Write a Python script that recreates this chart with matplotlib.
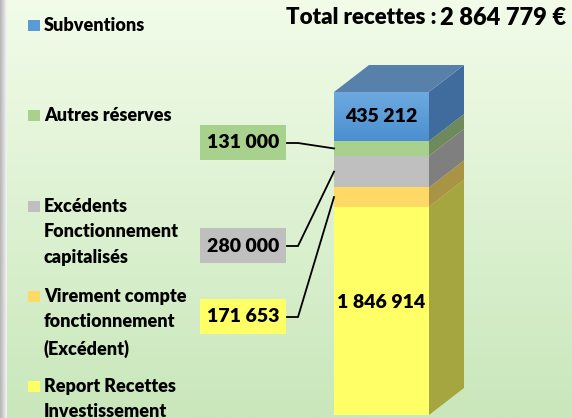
"""Stacked 3D-look column: budget recettes d'investissement."""

import numpy as np
import matplotlib
matplotlib.use("Agg")
from matplotlib import pyplot as plt
from matplotlib.colors import to_rgb
from matplotlib.patches import Polygon, Rectangle

plt.rcParams['font.family'] = ['Lato', 'DejaVu Sans']

# data, bottom to top of the stack
categories = ["Report Recettes\nInvestissement",
              "Virement compte\nfonctionnement\n(Excédent)",
              "Excédents\nFonctionnement\ncapitalisés",
              "Autres réserves",
              "Subventions"]
values = [1846914, 171653, 280000, 131000, 435212]
value_labels = ["1 846 914", "171 653", "280 000", "131 000", "435 212"]
total_label = "2 864 779 €"

front_colors = ["#ffff66", "#ffd966", "#bfbfbf", "#a9d18e", "#5b9bd5"]
side_colors = ["#a6a640", "#a89444", "#7f7f7f", "#6e8a5c", "#3f6c9c"]
box_colors = {3: "#a9d18e", 2: "#bfbfbf", 1: "#ffff66"}
top_color = "#5781ab"

W, H = 572, 418
total = sum(values)
scale = total / 323.0           # value units per pixel
base_px = 415                   # pixel row of value 0
WEIGHT = 'heavy'


def vy(py):
    """pixel row -> value units"""
    return (base_px - py) * scale


def vgrad(c_top, c_bot, n=256):
    t = np.linspace(0, 1, n)[:, None, None]
    return np.array(to_rgb(c_top))[None, None, :] * (1 - t) + np.array(to_rgb(c_bot))[None, None, :] * t


fig = plt.figure(figsize=(W / 100, H / 100), dpi=100)
ax = fig.add_axes([0, 0, 1, 1])
ax.set_xlim(0, W)
ax.set_ylim(vy(H), vy(0))
ax.axis('off')

# background gradient
ax.imshow(vgrad("#f2fce9", "#c9e7bb"), extent=[0, W, vy(H), vy(0)],
          aspect='auto', zorder=0)
# left frame strip
edge = np.linspace(0.72, 0.95, 8)[None, :, None] * np.ones((1, 8, 3))
ax.imshow(edge, extent=[0, 7, vy(H), vy(0)], aspect='auto', zorder=0.5)

# column
x0, bw = 334, 95
dx, dy = 35, 27 * scale
bottoms = np.concatenate([[0], np.cumsum(values)[:-1]])
bars = ax.bar(x0, values, bottom=bottoms, width=bw, align='edge',
              color=front_colors, linewidth=0, zorder=2)
# shaded front of the top segment
top_bar = bars[-1]
shade = ax.imshow(vgrad("#6eaae0", "#4b8fd0"),
                  extent=[x0, x0 + bw, bottoms[-1], total],
                  aspect='auto', zorder=2.1)
shade.set_clip_path(top_bar)
for b, v, sc in zip(bottoms, values, side_colors):
    ax.add_patch(Polygon([(x0 + bw, b), (x0 + bw + dx, b + dy),
                          (x0 + bw + dx, b + v + dy), (x0 + bw, b + v)],
                         closed=True, facecolor=sc, edgecolor='none', zorder=2))
ax.add_patch(Polygon([(x0, total), (x0 + bw, total),
                      (x0 + bw + dx, total + dy), (x0 + dx, total + dy)],
                     closed=True, facecolor=top_color, edgecolor='none', zorder=2))
ax.set_xlim(0, W)
ax.set_ylim(vy(H), vy(0))

# labels inside the column
lab_kw = dict(fontsize=14, fontweight=WEIGHT, color='black', zorder=4)
ax.text(x0 + bw / 2, bottoms[4] + values[4] / 2, value_labels[4],
        ha='center', va='center', **lab_kw)
ax.text(x0 + bw / 2, bottoms[0] + values[0] / 2 + 8 * scale, value_labels[0],
        ha='center', va='center', **lab_kw)

# callout boxes for the thin segments
callouts = [(3, 143), (2, 246), (1, 317)]
for idx, py in callouts:
    ax.add_patch(Rectangle((200, vy(py + 17)), 86, 35 * scale,
                           facecolor=box_colors[idx], edgecolor='none', zorder=3))
    ax.text(243, vy(py), value_labels[idx], ha='center', va='center', **lab_kw)
    mid = bottoms[idx] + values[idx] / 2
    ax.plot([287, 298, x0], [vy(py), vy(py), mid], color='black', lw=1.3,
            zorder=3, solid_joinstyle='miter')

# legend
leg_y = [386, 296, 206, 115, 25]
for cat, col, py in zip(categories, front_colors, leg_y):
    ax.add_patch(Rectangle((28, vy(py + 6)), 12, 11 * scale,
                           facecolor=col, edgecolor='none', zorder=3))
    ax.text(44, vy(py - 8), cat, ha='left', va='top', fontsize=13,
            fontweight=WEIGHT, linespacing=1.6, zorder=3)

# title
ax.text(437, vy(18), "Total recettes :", ha='right', va='center',
        fontsize=16, fontweight=WEIGHT)
ax.text(566, vy(18), total_label, ha='right', va='center',
        fontsize=17, fontweight=WEIGHT)

fig.savefig("out.png", dpi=100)
